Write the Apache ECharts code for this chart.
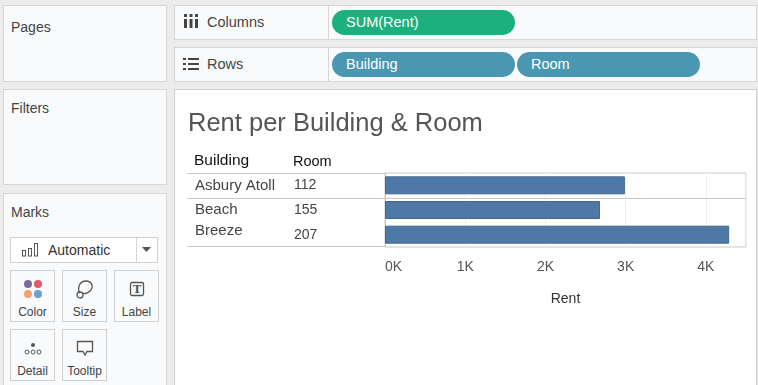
<!DOCTYPE html>
<html>
<head>
<meta charset="utf-8">
<script src="https://cdn.jsdelivr.net/npm/echarts@6/dist/echarts.min.js"></script>
<style>
body{margin:0;width:758px;height:385px;overflow:hidden;background:#ececec;font-family:Arial,"Liberation Sans",sans-serif;position:relative}
.box{position:absolute;background:#f9fafb;border:1px solid #d6d6d6;box-sizing:border-box}
.txt{position:absolute;font-size:14px;line-height:16px;color:#444;white-space:nowrap}
.pill{position:absolute;height:25px;border-radius:13px;color:#fff;font-size:14.5px;line-height:25px;padding-left:14px;box-sizing:border-box}
.btn{position:absolute;width:45px;height:52px;background:#f9fafb;border:1px solid #cfcfcf;box-sizing:border-box;text-align:center;font-size:12px;color:#444}
.btn svg{position:absolute;left:12px;top:8px}
.btn span{position:absolute;left:0;right:0;top:34px;line-height:14px}
#pane{position:absolute;left:174px;top:89px;width:583px;height:300px;background:#fff;border:1px solid #cfcfcf;box-sizing:border-box}
#chart{position:absolute;left:0;top:0;width:581px;height:298px}
</style>
</head>
<body>
<!-- left column -->
<div class="box" style="left:3px;top:5px;width:164px;height:77px"></div>
<div class="txt" style="left:11px;top:19px">Pages</div>
<div class="box" style="left:3px;top:89px;width:164px;height:96px"></div>
<div class="txt" style="left:11px;top:100px">Filters</div>
<div class="box" style="left:3px;top:193px;width:164px;height:200px"></div>
<div class="txt" style="left:11px;top:204px">Marks</div>

<div style="position:absolute;left:10px;top:237px;width:148px;height:26px;background:#fff;border:1px solid #cfcfcf;box-sizing:border-box"></div>
<div style="position:absolute;left:136px;top:238px;width:1px;height:24px;background:#d6d6d6"></div>
<svg style="position:absolute;left:22px;top:243px" width="18" height="14">
  <rect x="0.5" y="7.5" width="3" height="5.5" fill="none" stroke="#555"/>
  <rect x="6.5" y="5.5" width="3" height="7.5" fill="none" stroke="#555"/>
  <rect x="12.5" y="0.5" width="3" height="12.5" fill="none" stroke="#555"/>
</svg>
<div class="txt" style="left:48px;top:242px;color:#333">Automatic</div>
<svg style="position:absolute;left:142px;top:247px" width="10" height="6"><path d="M0 0 L9 0 L4.5 5 Z" fill="#555"/></svg>

<div class="btn" style="left:10px;top:270px">
  <svg width="20" height="20"><circle cx="5" cy="5" r="4" fill="#7a6a9c"/><circle cx="15" cy="5" r="4" fill="#e15c6a"/><circle cx="5" cy="15" r="4" fill="#f2a26c"/><circle cx="15" cy="15" r="4" fill="#6e9fd6"/></svg>
  <span>Color</span>
</div>
<div class="btn" style="left:62px;top:270px">
  <svg width="20" height="20"><path d="M5 14 C2 10 4 2 11 2 C17 2 19 8 15 12 C12 15 8 15 7 14" fill="none" stroke="#555" stroke-width="1.3"/><circle cx="5" cy="16" r="3" fill="none" stroke="#555" stroke-width="1.3"/></svg>
  <span>Size</span>
</div>
<div class="btn" style="left:114px;top:270px">
  <svg width="20" height="20"><rect x="3.5" y="3.5" width="13" height="13" rx="1.5" fill="none" stroke="#555" stroke-width="1.3"/><text x="10" y="14" font-size="11" font-weight="bold" text-anchor="middle" fill="#555" font-family="DejaVu Serif">T</text></svg>
  <span>Label</span>
</div>
<div class="btn" style="left:10px;top:329px">
  <svg width="20" height="20"><circle cx="10" cy="7" r="2" fill="#555"/><circle cx="4" cy="14" r="2" fill="none" stroke="#555"/><circle cx="10" cy="14" r="2" fill="none" stroke="#555"/><circle cx="16" cy="14" r="2" fill="none" stroke="#555"/></svg>
  <span>Detail</span>
</div>
<div class="btn" style="left:62px;top:329px">
  <svg width="20" height="20"><path d="M2.5 3.5 L17.5 3.5 L17.5 13.5 L12 13.5 L10 17 L8 13.5 L2.5 13.5 Z" fill="none" stroke="#555" stroke-width="1.3"/></svg>
  <span>Tooltip</span>
</div>

<!-- shelves -->
<div class="box" style="left:174px;top:5px;width:583px;height:35px"></div>
<div style="position:absolute;left:328px;top:6px;width:1px;height:33px;background:#d6d6d6"></div>
<svg style="position:absolute;left:184px;top:14px" width="14" height="14">
  <rect x="0" y="0" width="3" height="3" fill="#444"/><rect x="0" y="5" width="3" height="9" fill="#444"/>
  <rect x="5.5" y="0" width="3" height="3" fill="#444"/><rect x="5.5" y="5" width="3" height="9" fill="#444"/>
  <rect x="11" y="0" width="3" height="3" fill="#444"/><rect x="11" y="5" width="3" height="9" fill="#444"/>
</svg>
<div class="txt" style="left:207px;top:14px;font-size:14.5px">Columns</div>
<div class="pill" style="left:332px;top:10px;width:183px;background:#1bb07e">SUM(Rent)</div>

<div class="box" style="left:174px;top:47px;width:583px;height:35px"></div>
<div style="position:absolute;left:328px;top:48px;width:1px;height:33px;background:#d6d6d6"></div>
<svg style="position:absolute;left:183px;top:58px" width="16" height="12">
  <rect x="0" y="0" width="3" height="2" fill="#444"/><rect x="5" y="0" width="11" height="2" fill="#444"/>
  <rect x="0" y="5" width="3" height="2" fill="#444"/><rect x="5" y="5" width="11" height="2" fill="#444"/>
  <rect x="0" y="10" width="3" height="2" fill="#444"/><rect x="5" y="10" width="11" height="2" fill="#444"/>
</svg>
<div class="txt" style="left:207px;top:56px;font-size:14.5px">Rows</div>
<div class="pill" style="left:332px;top:52px;width:183px;background:#4a97b1">Building</div>
<div class="pill" style="left:517px;top:52px;width:183px;background:#4a97b1">Room</div>

<div id="pane"><div id="chart"></div></div>

<script>
var buildings = ['Asbury Atoll', 'Beach Breeze'];
var rooms = ['112', '155', '207'];
var roomBuilding = ['Asbury Atoll', 'Beach Breeze', 'Beach Breeze'];
var rent = [2990, 2680, 4290];
var rentTickLabels = ['0K', '1K', '2K', '3K', '4K'];

var font = 'Arial, "Liberation Sans", sans-serif';
var lineColor = '#c9c9c9';

var chart = echarts.init(document.getElementById('chart'));
var option = {
	animation: false,
	title: {
		text: 'Rent per Building & Room',
		left: 13, top: 21, padding: 0,
		textStyle: {fontFamily: font, fontSize: 25.5, fontWeight: 'normal', color: '#555'}
	},
	grid: {left: 210, right: 10, top: 83, height: 74, show: true, borderColor: lineColor, borderWidth: 1},
	xAxis: {
		type: 'value', min: 0, max: 4500, interval: 1000,
		name: 'Rent', nameLocation: 'middle', nameGap: 45,
		nameTextStyle: {color: '#333', fontSize: 14, fontFamily: font},
		axisLine: {show: false}, axisTick: {show: false},
		splitLine: {lineStyle: {color: '#efefef'}},
		axisLabel: {
			color: '#555', fontSize: 14, fontFamily: font, margin: 13,
			showMaxLabel: false, alignMinLabel: 'left',
			formatter: function (v) { return rentTickLabels[v / 1000] || ''; }
		}
	},
	yAxis: {
		type: 'category', inverse: true, data: rooms,
		axisLine: {lineStyle: {color: lineColor}}, axisTick: {show: false},
		axisLabel: {align: 'left', margin: 91, color: '#444', fontSize: 14, fontFamily: font}
	},
	series: [{
		type: 'bar', data: rent, barWidth: 18,
		itemStyle: {color: '#4e79a7', borderColor: '#416891', borderWidth: 1}
	}]
};
chart.setOption(option);

// row headers, building labels and pane separators from the axis scale
var yAt = function (i) { return chart.convertToPixel({yAxisIndex: 0}, rooms[i]); };
var band = yAt(1) - yAt(0);
var plotRight = chart.convertToPixel({xAxisIndex: 0}, 4500);
var topEdge = yAt(0) - band / 2;
var bottomEdge = yAt(rooms.length - 1) + band / 2;
var elements = [];
var hline = function (y, x2) {
	elements.push({type: 'line', silent: true, shape: {x1: 12, y1: y, x2: x2, y2: y}, style: {stroke: lineColor, lineWidth: 1}});
};
hline(Math.round(topEdge) + 0.5, 210);
hline(Math.round(bottomEdge) - 0.5, 210);
for (var i = 0; i < rooms.length - 1; i++) {
	if (roomBuilding[i] !== roomBuilding[i + 1]) {
		hline(Math.round((yAt(i) + yAt(i + 1)) / 2) + 0.5, plotRight);
	}
}
elements.push({type: 'text', left: 19, top: 63, style: {text: 'Building', fill: '#111', font: '15.5px ' + font}});
elements.push({type: 'text', left: 118, top: 64, style: {text: 'Room', fill: '#111', font: '14.5px ' + font}});
buildings.forEach(function (b) {
	var first = roomBuilding.indexOf(b);
	var last = roomBuilding.lastIndexOf(b);
	var cy = (yAt(first) + yAt(last)) / 2;
	var multi = last > first;
	var label = multi ? b.replace(' ', '\n') : b;
	elements.push({
		type: 'text', x: 20, y: multi ? cy - 2 : cy + 1,
		style: {text: label, fill: '#444', font: '15px ' + font, lineHeight: 21, verticalAlign: 'middle', align: 'left'}
	});
});
chart.setOption({graphic: elements});
</script>
</body>
</html>
